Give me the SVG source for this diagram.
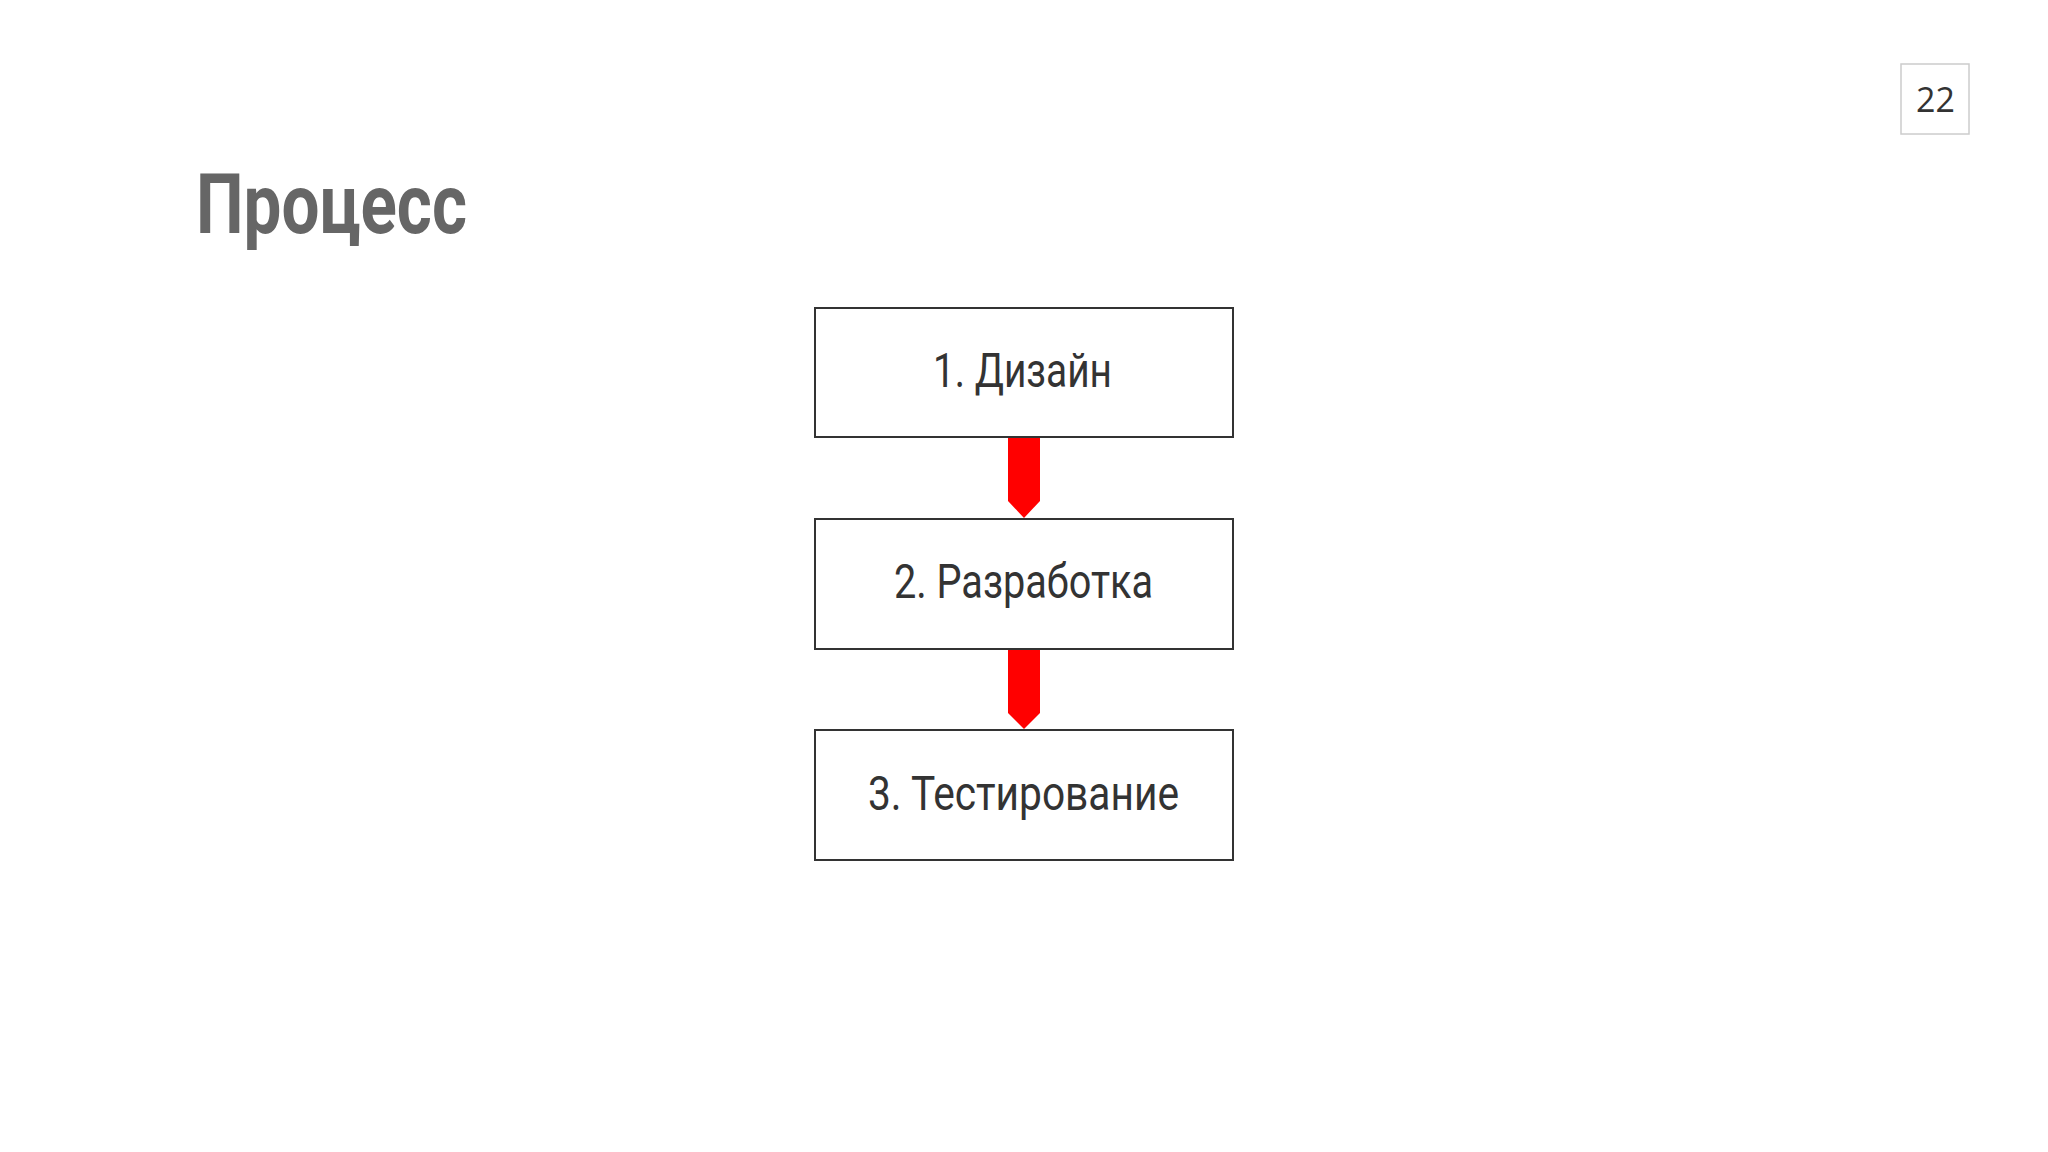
<svg xmlns="http://www.w3.org/2000/svg" width="2048" height="1152" viewBox="0 0 2048 1152">
  <style>
    .box { fill: #ffffff; stroke: #333333; stroke-width: 2; }
    .lbl { font-family: Roboto, "Liberation Sans", sans-serif; font-size: 48px; fill: #333333; text-anchor: middle; }
    .arrow { fill: #ff0000; }
  </style>
  <rect x="0" y="0" width="2048" height="1152" fill="#ffffff"/>
  <g id="title">
    <text x="196" y="233" font-family="Roboto, 'Liberation Sans', sans-serif" font-weight="bold" font-size="84" fill="#666666" textLength="271" lengthAdjust="spacingAndGlyphs">Процесс</text>
  </g>
  <g id="page-number">
    <rect x="1901" y="64" width="68" height="70" fill="#ffffff" stroke="#cccccc" stroke-width="1.5"/>
    <text x="1935.5" y="112" font-family="'Open Sans', 'Noto Sans', sans-serif" font-size="34" fill="#333333" text-anchor="middle">22</text>
  </g>
  <g id="connectors">
    <polygon class="arrow" points="1008,437 1040,437 1040,501 1024,518 1008,501"/>
    <polygon class="arrow" points="1008,649 1040,649 1040,713 1024,729 1008,713"/>
  </g>
  <g id="node-design">
    <rect class="box" x="815" y="308" width="418" height="129"/>
    <text class="lbl" x="1022.5" y="387" textLength="179" lengthAdjust="spacingAndGlyphs">1. Дизайн</text>
  </g>
  <g id="node-development">
    <rect class="box" x="815" y="519" width="418" height="130"/>
    <text class="lbl" x="1023.5" y="598" textLength="259" lengthAdjust="spacingAndGlyphs">2. Разработка</text>
  </g>
  <g id="node-testing">
    <rect class="box" x="815" y="730" width="418" height="130"/>
    <text class="lbl" x="1023.5" y="810" textLength="311" lengthAdjust="spacingAndGlyphs">3. Тестирование</text>
  </g>
</svg>
